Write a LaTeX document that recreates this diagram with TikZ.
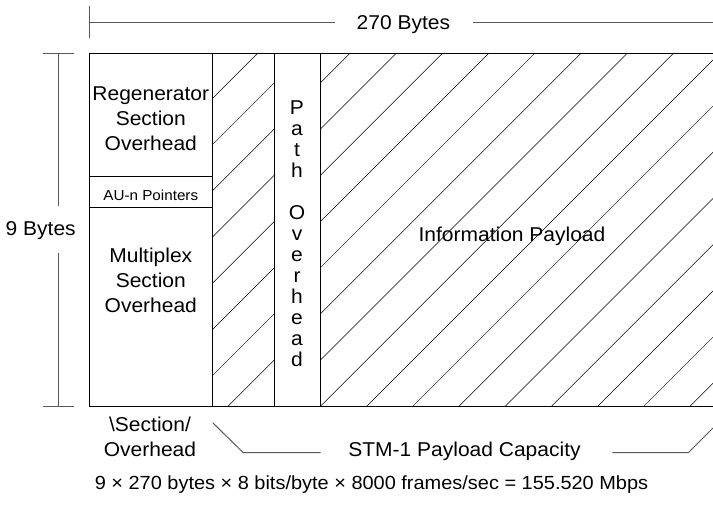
\documentclass[tikz,border=0pt]{standalone}
\usepackage{fontspec}
\setmainfont{Liberation Sans}[FakeStretch=1.05]
\begin{document}
\begin{tikzpicture}[x=1pt,y=-1pt,
  frame/.style={draw=black, line width=0.8pt},
  dim/.style={draw=black!65, line width=1pt},
  hatch/.style={draw=black, line width=0.5pt},
  lbl/.style={font=\fontsize{20}{25}\selectfont, align=center, inner sep=0pt},
  vlbl/.style={font=\fontsize{20}{21}\selectfont, align=center, inner sep=0pt},
  small/.style={font=\fontsize{14.5}{16}\selectfont, inner sep=0pt},
  note/.style={font=\fontsize{19}{22}\selectfont, inner sep=0pt}]
\useasboundingbox (0,0) rectangle (713,512);

% diagonal hatching of the payload columns
\begin{scope}
  \clip (212.3,53.3) rectangle (274,406.7) (320,53.3) rectangle (713,406.7);
  \foreach \k in {-8,...,11} {
    \pgfmathsetmacro\c{634.3+46.2*\k}
    \draw[hatch] (\c-53.3,53.3) -- (\c-406.7,406.7);
  }
\end{scope}

% frame and column dividers
\draw[frame] (713,53.3) -- (89.3,53.3) -- (89.3,406.7) -- (713,406.7);
\draw[frame] (212.3,53.3) -- (212.3,406.7);
\draw[frame] (274,53.3) -- (274,406.7);
\draw[frame] (320,53.3) -- (320,406.7);
\draw[frame] (89.3,176) -- (212.3,176);
\draw[frame] (89.3,207.3) -- (212.3,207.3);

% section texts
\node[lbl] (rsoh) at (150.8,119) {Regenerator\\Section\\Overhead};
\node[small, anchor=base] (au) at (150.8,200) {AU-n Pointers};
\node[lbl] (msoh) at (150.8,280.7) {Multiplex\\Section\\Overhead};
\node[vlbl] (poh) at (297,234) {P\\a\\t\\h\\[21pt]O\\v\\e\\r\\h\\e\\a\\d};
\node[lbl, anchor=base] (info) at (512,241.7) {Information Payload};

% width dimension
\coordinate (wt1) at (89.3,6);
\coordinate (wt2) at (89.3,38);
\coordinate (wl) at (89.3,22.7);
\coordinate (wl2) at (334.7,22.7);
\coordinate (wr1) at (473,22.7);
\coordinate (wr2) at (713,22.7);
\draw[dim] (wt1) -- (wt2);
\draw[dim] (wl) -- (wl2);
\draw[dim] (wr1) -- (wr2);
\node[lbl, anchor=base] (bytes270) at (403.4,29.5) {270 Bytes};

% height dimension
\coordinate (ht1) at (43.3,53.3);
\coordinate (ht2) at (74,53.3);
\coordinate (hb1) at (43.3,406.7);
\coordinate (hb2) at (74,406.7);
\coordinate (hv1) at (58.7,53.3);
\coordinate (hv2) at (58.7,205.7);
\coordinate (hv3) at (58.7,253);
\coordinate (hv4) at (58.7,406.7);
\draw[dim] (ht1) -- (ht2);
\draw[dim] (hb1) -- (hb2);
\draw[dim] (hv1) -- (hv2);
\draw[dim] (hv3) -- (hv4);
\node[lbl, anchor=base] (bytes9) at (40.7,235) {9 Bytes};

% bottom labels and payload capacity brace
\node[lbl] (soh) at (150,437.3) {\textbackslash Section/\\Overhead};
\coordinate (c1) at (212.7,422.7);
\coordinate (c2) at (243.3,452.7);
\coordinate (c3) at (320.6,452.7);
\coordinate (c4) at (612.3,452.7);
\coordinate (c5) at (688.3,452.7);
\coordinate (c6) at (713,428);
\draw[dim] (c1) -- (c2) -- (c3);
\draw[dim] (c4) -- (c5) -- (c6);
\node[lbl, anchor=base] (stm) at (464.5,456.7) {STM-1 Payload Capacity};

% bit rate
\node[note, anchor=base] (rate) at (371.5,489) {9 × 270 bytes × 8 bits/byte × 8000 frames/sec = 155.520 Mbps};
\end{tikzpicture}
\end{document}
